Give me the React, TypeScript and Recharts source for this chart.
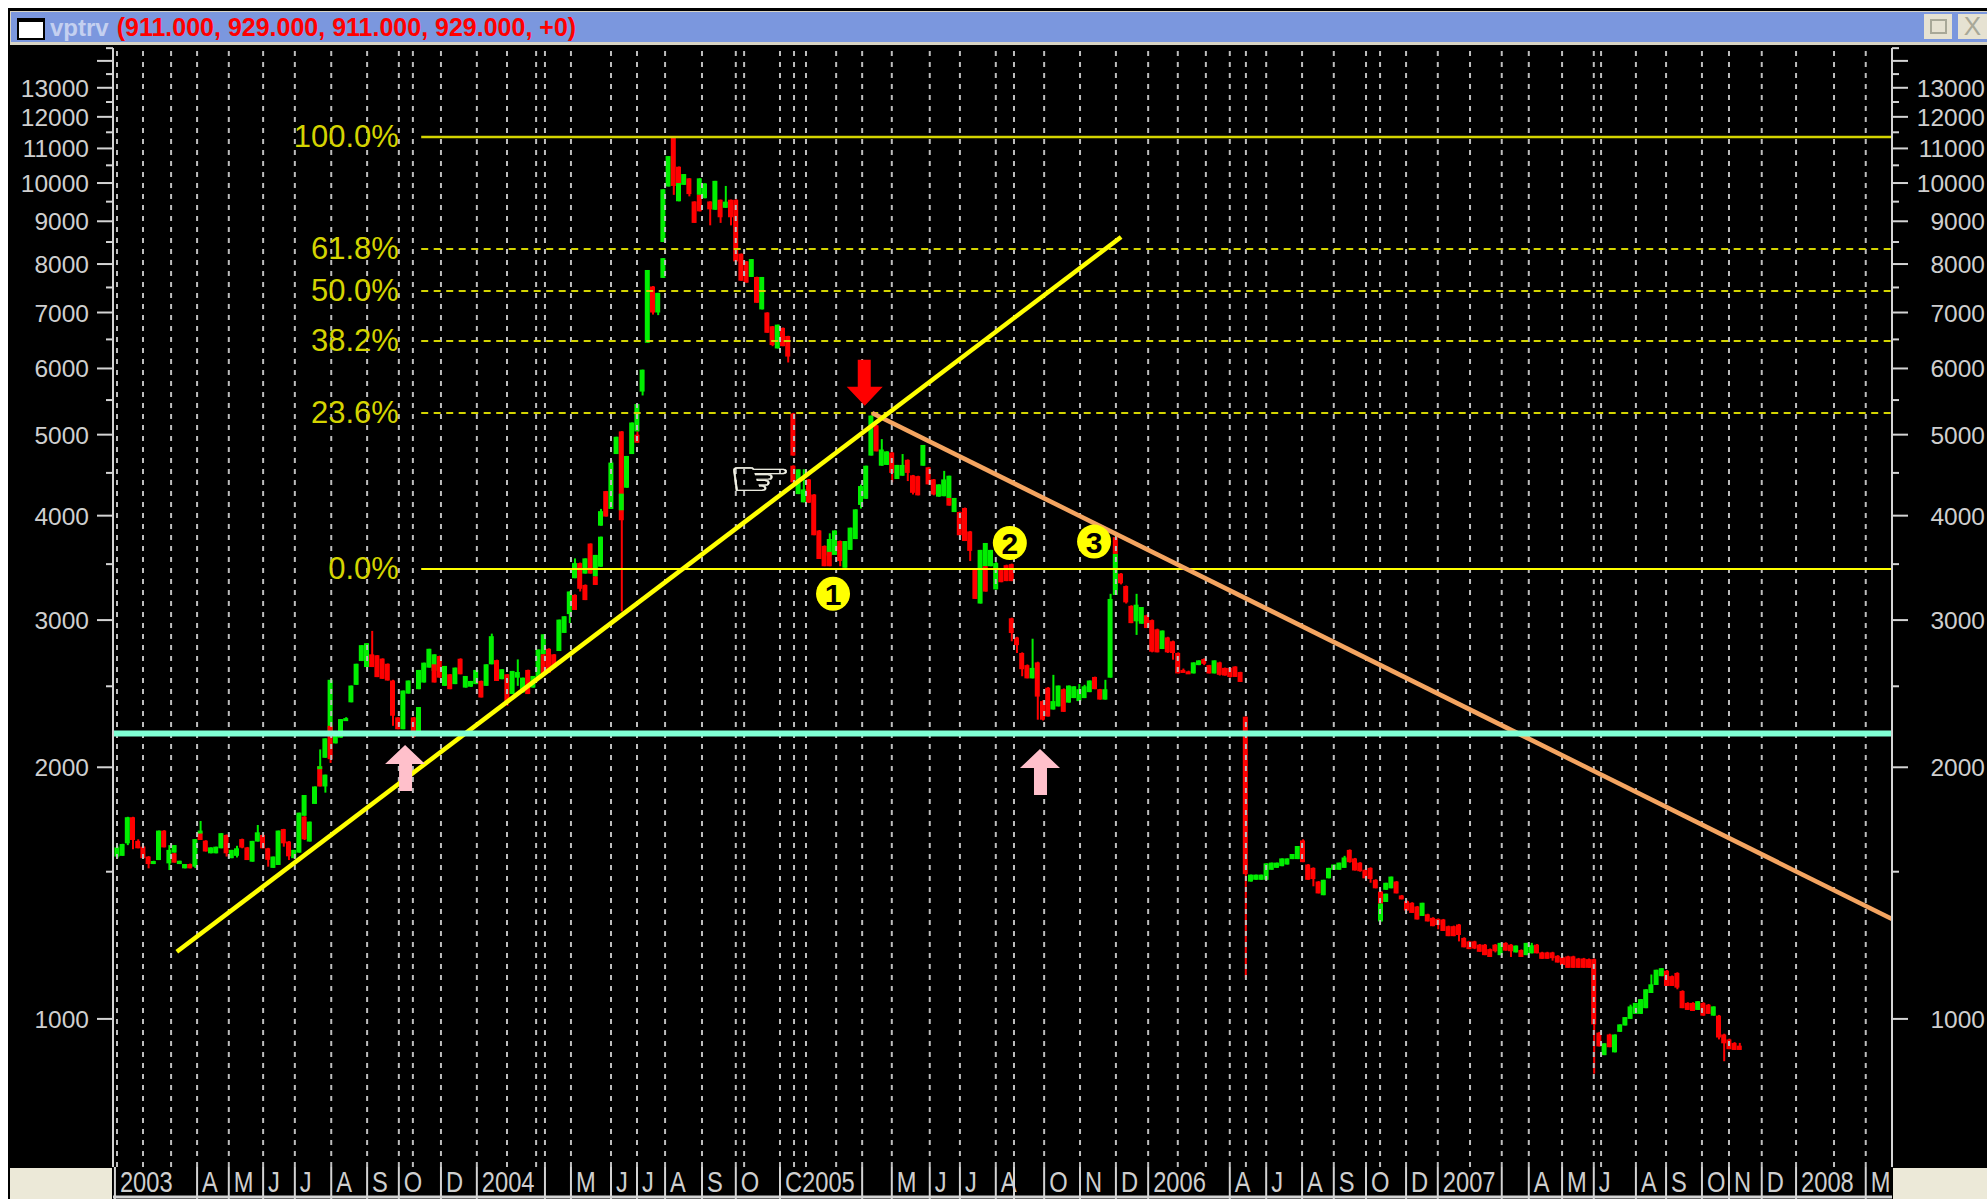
import React from "react";
import { ComposedChart, Bar, XAxis, YAxis, ReferenceLine, ReferenceDot } from "recharts";

type Ohlc = number[];

const bars2003a: Ohlc[] = [[1564,1610,1557,1604],[1567,1620,1567,1619],[1622,1745,1614,1743],[1743,1745,1596,1637],[1633,1640,1600,1600],[1607,1610,1557,1557],[1564,1566,1514,1532],[1532,1546,1532,1545],[1549,1680,1549,1680],[1680,1682,1604,1604],[1535,1614,1507,1593],[1581,1614,1581,1614],[1532,1546,1532,1546],[1514,1532,1514,1532],[1532,1534,1514,1514],[1521,1641,1515,1641],[1671,1672,1637,1637],[1634,1636,1586,1586],[1578,1604,1578,1604],[1578,1607,1578,1607]];
const bars2003b: Ohlc[] = [[1600,1668,1600,1668],[1660,1662,1564,1578],[1557,1593,1557,1593],[1567,1611,1560,1600],[1641,1643,1600,1603],[1604,1606,1549,1549],[1542,1633,1542,1633],[1630,1706,1630,1672],[1660,1662,1600,1600],[1600,1602,1521,1550],[1516,1564,1516,1564],[1528,1680,1528,1680],[1687,1688,1607,1622],[1630,1632,1549,1565],[1557,1593,1557,1593],[1581,1765,1581,1765],[1750,1853,1750,1853],[1630,1722,1630,1722],[1808,1897,1808,1897],[2006,2008,1897,1897]];
const bars2003c: Ohlc[] = [[2053,2166,2053,2166],[2180,2545,2140,2545],[2136,2180,2136,2180],[2170,2284,2170,2284],[2280,2296,2280,2290],[2392,2505,2392,2505],[2510,2660,2510,2660],[2680,2800,2680,2800],[2636,2815,2636,2815],[2730,2912,2636,2636],[2723,2725,2564,2564],[2698,2700,2552,2552],[2660,2662,2540,2540],[2540,2545,2242,2305],[2295,2297,2221,2221],[2221,2471,2221,2471],[2450,2540,2450,2540],[2295,2297,2170,2175],[2199,2361,2199,2361],[2526,2668,2526,2668]];
const bars2004a: Ohlc[] = [[2632,2772,2632,2772],[2608,2730,2608,2730],[2717,2720,2560,2560],[2503,2644,2503,2644],[2584,2586,2480,2480],[2515,2632,2515,2632],[2697,2700,2584,2584],[2491,2572,2491,2572],[2497,2537,2497,2537],[2515,2615,2515,2615],[2537,2540,2424,2424],[2503,2656,2503,2656],[2656,2890,2656,2870],[2687,2690,2537,2537],[2549,2620,2549,2620],[2584,2586,2370,2400],[2447,2608,2447,2608],[2560,2692,2503,2600],[2458,2560,2458,2560],[2615,2617,2447,2447]];
const bars2004b: Ohlc[] = [[2491,2572,2491,2572],[2560,2767,2560,2767],[2730,2885,2730,2885],[2772,2775,2596,2596],[2730,2732,2632,2632],[2755,3004,2755,3004],[2896,3032,2896,3032],[3050,3246,2975,3246],[3216,3220,3085,3085],[3510,3515,3246,3270],[3305,3310,3170,3170],[3704,3706,3410,3410],[3383,3590,3383,3590],[3475,3775,3475,3775],[4280,4282,3990,3990],[4075,4660,4075,4630],[4740,4971,4740,4971],[5045,5050,3073,3950],[4320,4715,4320,4715],[4740,5170,4740,5170]];
const bars2004c: Ohlc[] = [[5045,5440,5045,5440],[5630,5980,5570,5980],[6440,7870,6440,7870],[7520,7530,6960,7000],[7000,7390,6950,7390],[8500,9830,8500,9830],[9905,10770,9905,10770],[11320,11340,9680,9920],[9510,10060,9510,10060],[9950,10250,9950,10250],[10130,10135,9640,9700],[9505,9510,8960,8960],[9680,10130,9680,10130],[9590,9990,9590,9990],[9505,9510,8900,9300],[9290,10060,9290,10060],[9550,9555,8960,9100],[9340,9920,9340,9500],[9550,9555,8900,9100],[9550,9560,8060,8060]];
const bars2005a: Ohlc[] = [[8230,8235,7640,7640],[8060,8065,7600,7600],[7720,8110,7720,8110],[7720,7725,7190,7190],[7060,7720,7060,7720],[7000,7005,6620,6620],[6740,6745,6380,6400],[6340,6770,6340,6770],[6710,6715,6380,6380],[6561,6565,6100,6200],[5300,5310,4717,4720],[4245,4545,4245,4545],[4150,4545,4150,4300],[4420,4425,4145,4145],[4240,4245,3790,3790],[3840,3845,3550,3550],[3680,3685,3480,3480],[3583,3810,3583,3751],[3590,3840,3590,3840],[3730,3735,3480,3530]];
const bars2005b: Ohlc[] = [[3465,3730,3465,3730],[3640,3870,3640,3870],[3750,4070,3750,4070],[4120,4360,4080,4340],[4190,4590,4190,4590],[4720,5270,4720,5270],[5130,5135,4775,4775],[4590,4939,4590,4800],[4600,4775,4600,4775],[4760,4765,4385,4500],[4425,4600,4425,4600],[4465,4740,4465,4600],[4665,4670,4400,4500],[4470,4475,4240,4260],[4460,4465,4230,4230],[4590,4860,4590,4860],[4570,4575,4360,4360],[4420,4425,4230,4240],[4215,4360,4215,4360],[4220,4525,4220,4420]];
const bars2005c: Ohlc[] = [[4200,4465,4200,4465],[4040,4200,4040,4200],[4040,4045,3790,3790],[4085,4090,3730,3730],[3830,3835,3530,3630],[3455,3460,3180,3180],[3140,3640,3140,3640],[3480,3710,3480,3710],[3480,3640,3480,3640],[3265,3520,3265,3510],[3455,3460,3330,3330],[3490,3495,3340,3340],[3500,3505,3340,3340],[2860,2865,2740,2800],[2740,2745,2570,2620],[2650,2655,2555,2555],[2555,2850,2555,2630],[2670,2675,2280,2430],[2400,2405,2275,2280],[2490,2495,2300,2300]];
const bars2006a: Ohlc[] = [[2345,2580,2345,2400],[2365,2505,2365,2505],[2480,2485,2330,2330],[2390,2505,2390,2505],[2420,2500,2420,2500],[2400,2515,2400,2480],[2420,2510,2420,2500],[2460,2540,2460,2540],[2565,2567,2480,2480],[2480,2482,2410,2410],[2410,2545,2410,2480],[2560,3225,2560,3180],[3215,3600,3215,3600],[3410,3415,3310,3320],[3295,3300,3140,3150],[3120,3125,2975,2975],[2990,3225,2880,3130],[2970,3110,2970,3110],[3040,3045,2935,2935],[3000,3005,2745,2750]];
const bars2006b: Ohlc[] = [[2925,2930,2745,2745],[2770,2915,2770,2915],[2860,2865,2740,2745],[2830,2835,2690,2740],[2740,2745,2590,2590],[2615,2625,2600,2605],[2605,2610,2595,2600],[2590,2670,2590,2670],[2650,2685,2650,2685],[2695,2700,2650,2660],[2650,2652,2590,2590],[2590,2685,2590,2685],[2670,2675,2575,2580],[2630,2632,2575,2575],[2630,2632,2560,2565],[2640,2642,2565,2565],[2600,2602,2530,2530],[2299,2300,1120,1490],[1460,1488,1460,1488],[1467,1488,1467,1488]];
const bars2006c: Ohlc[] = [[1467,1488,1467,1488],[1467,1535,1467,1535],[1508,1538,1508,1538],[1516,1538,1516,1538],[1523,1556,1523,1556],[1530,1556,1530,1556],[1553,1575,1553,1575],[1553,1610,1553,1610],[1635,1640,1540,1540],[1530,1532,1467,1467],[1516,1518,1441,1470],[1460,1462,1413,1413],[1406,1467,1406,1467],[1473,1516,1473,1516],[1508,1530,1508,1530],[1508,1538,1508,1538],[1516,1567,1516,1560],[1593,1595,1538,1540],[1556,1558,1505,1505],[1538,1540,1500,1502]];
const bars2007a: Ohlc[] = [[1508,1510,1473,1473],[1516,1518,1455,1470],[1467,1469,1433,1433],[1308,1375,1308,1375],[1380,1412,1380,1412],[1433,1480,1433,1480],[1460,1462,1413,1413],[1405,1407,1390,1390],[1383,1385,1348,1348],[1377,1379,1339,1339],[1363,1365,1315,1315],[1328,1377,1328,1377],[1334,1336,1308,1308],[1321,1323,1291,1291],[1317,1319,1280,1295],[1315,1317,1274,1274],[1291,1293,1256,1256],[1291,1293,1256,1256],[1297,1299,1238,1260],[1250,1252,1218,1218]];
const bars2007b: Ohlc[] = [[1238,1240,1212,1212],[1238,1240,1212,1214],[1227,1229,1203,1203],[1227,1229,1192,1192],[1212,1214,1186,1186],[1227,1229,1201,1205],[1192,1233,1192,1233],[1233,1235,1207,1207],[1227,1229,1186,1205],[1201,1224,1201,1224],[1209,1211,1186,1186],[1192,1233,1192,1233],[1198,1233,1198,1225],[1227,1229,1198,1198],[1201,1203,1180,1180],[1201,1203,1180,1180],[1201,1203,1174,1182],[1190,1192,1168,1168],[1185,1187,1160,1160],[1188,1190,1151,1151]];
const bars2007c: Ohlc[] = [[1188,1190,1151,1151],[1181,1183,1151,1151],[1181,1183,1151,1151],[1179,1181,1151,1151],[1179,1181,860,985],[963,965,927,927],[905,935,905,935],[958,960,925,925],[912,958,912,958],[965,985,965,985],[982,1005,982,1005],[1000,1040,1000,1035],[1014,1045,1014,1045],[1014,1056,1014,1056],[1030,1085,1030,1085],[1074,1130,1074,1100],[1098,1145,1098,1145],[1125,1150,1125,1150],[1142,1144,1095,1095],[1125,1127,1095,1095]];
const bars2007d: Ohlc[] = [[1135,1137,1085,1090],[1080,1082,1030,1030],[1045,1047,1025,1025],[1045,1047,1022,1022],[1025,1050,1025,1050],[1045,1047,1009,1009],[1040,1042,1014,1014],[1009,1035,1009,1035],[1009,1011,945,950],[958,960,890,935],[945,947,920,920],[936,938,918,918],[929,936,918,918]];

// second bar drawn in an occupied slot: slot, open, high, low, close
const overlapBars: number[][] = [[11,1578,1580,1538,1538],[16,1672,1725,1672,1680],[36,1746,1748,1637,1640],[39,2006,2101,1990,2006],[40,1897,1960,1865,1960],[41,2242,2245,2024,2045],[58,2480,2615,2480,2615],[61,2656,2660,2526,2526],[82,2730,2732,2584,2584],[88,3367,3556,3367,3510],[90,3410,3556,3410,3556],[92,3383,3385,3305,3305],[93,3891,4075,3891,4050],[97,4060,4250,4060,4250],[100,5000,5045,4890,4890],[105,7700,8130,7700,8130],[108,10460,10465,9950,10000],[112,9680,9685,9250,9250],[130,4590,4595,4385,4385],[137,3620,3625,3480,3480],[160,4200,4205,4112,4112],[167,3480,3485,3245,3245],[172,3015,3020,2830,2895],[192,3770,3775,3600,3600],[243,1420,1422,1375,1375],[244,1427,1455,1427,1455]];

const gridSlots = [0,5,10.4,15.4,21.5,28.1,34.2,41.2,48.1,54.2,56.9,62.3,69.2,75,80.6,82.3,87.3,95,100,105.4,112.5,119,120.6,127.5,130.2,132.5,138.3,143.3,149,156.3,162.1,169,172.5,178.3,185.2,192.1,198.3,204,209.4,214,217.1,221,227.9,234,240.2,242.9,247.9,254,260.2,266.3,271.5,277.9,284,285.4,292.1,297.9,304.8,310,316.3,322.9,330.2,336.3];

const timeSlots = [-0.4,15.4,21.5,28.1,34.2,41.2,48.1,54.2,62.3,69.2,82.3,87.3,95,100,105.4,112.5,119,127.5,143.3,149,156.3,162.1,169,172.5,178.3,185.2,192.1,198.3,214,221,227.9,234,240.2,247.9,254,266.3,271.5,277.9,284,292.1,297.9,304.8,310,316.3,322.9,336.3];
const timeLabels = ["2003","A","M","J","J","A","S","O","D","2004","","M","J","J","A","S","O","C2005","","M","J","J","A","","O","N","D","2006","A","J","A","S","O","D","2007","","A","M","J","A","S","O","N","D","2008","M"];

const labeledPrices = [13000,12000,11000,10000,9000,8000,7000,6000,5000,4000,3000,2000,1000];
const unlabeledPrices = [14000];
const minorPrices = [14500,13500,12500,11500,10500,9500,8500,7500,6500,5500,4500,3500,2500,1500];

const fibPrices = [11350,8340,7428,6471,5308,3453];
const fibLabels = ["100.0%","61.8%","50.0%","38.2%","23.6%","0.0%"];
const fibSolid = [true,false,false,false,false,true];

const supportPrice = 2195;
const riseLine = [{ x: 11.5, y: 1203 }, { x: 193.1, y: 8619 }];
const fallLine = [{ x: 145.2, y: 5308 }, { x: 341.35, y: 1317 }];

const numberMarks = [{ x: 137.7, y: 3226, n: "1" }, { x: 171.7, y: 3710, n: "2" }, { x: 187.9, y: 3724, n: "3" }];
const pinkArrows = [{ x: 55.4, y: 2127 }, { x: 177.5, y: 2103 }];
const redArrow = { x: 143.8, y: 5414 };
const handMark = { x: 123.7, y: 4413 };

const GREEN = "#00ee00";
const RED = "#ff0000";
const GRID = "#bdbdbd";
const AXIS = "#d4d4d4";
const TXT = "#cfcfcf";
const FIB = "#d4d400";
const FONT = "'Liberation Sans', Arial, sans-serif";
const X_DOMAIN = [-0.77, 341.35];
const Y_DOMAIN = [665, 14506];

const toRow = (slot: number, b: number[]) => ({
  slot,
  wick: [b[2], b[1]],
  body: [Math.min(b[0], b[3]), Math.max(b[0], b[3])],
  color: b[3] >= b[0] ? GREEN : RED,
});

const mainBars = [...bars2003a, ...bars2003b, ...bars2003c, ...bars2004a, ...bars2004b, ...bars2004c, ...bars2005a, ...bars2005b, ...bars2005c, ...bars2006a, ...bars2006b, ...bars2006c, ...bars2007a, ...bars2007b, ...bars2007c, ...bars2007d];
const rows = [...mainBars.map((b, i) => toRow(i, b)), ...overlapBars.map((b) => toRow(b[0], b.slice(1)))];

const RangeShape = (minH: number) => (p: any) => (
  <rect x={p.x} y={p.y} width={p.width} height={Math.max(p.height, minH)} fill={p.payload.color} />
);

const PriceTick = (side: "left" | "right") => (p: any) => {
  const v = p.payload.value;
  const long = labeledPrices.includes(v) || unlabeledPrices.includes(v);
  const len = long ? 16 : 7;
  const y = p.y;
  const ax = side === "left" ? 113 : 1892;
  const dir = side === "left" ? -1 : 1;
  return (
    <g>
      <line x1={ax} x2={ax + dir * len} y1={y} y2={y} stroke={AXIS} strokeWidth={2} />
      {labeledPrices.includes(v) && (
        <text x={side === "left" ? 89 : 1985} y={y + 9} textAnchor="end" fill={TXT} fontSize={24.5} fontFamily={FONT}>{v}</text>
      )}
    </g>
  );
};

const TimeTick = (p: any) => {
  const idx = timeSlots.indexOf(p.payload.value);
  const label = timeLabels[idx];
  const x = p.x;
  return (
    <g>
      <line x1={x} x2={x} y1={1167} y2={1199} stroke={AXIS} strokeWidth={2} />
      <text transform={`translate(${x + 5},1192) scale(0.79,1)`} fill={TXT} fontSize={30} fontFamily={FONT}>{label}</text>
    </g>
  );
};

const FibLabel = (label: string) => (p: any) => (
  <text x={p.cx} y={p.cy + 10} textAnchor="end" fill={FIB} fontSize={31} fontFamily={FONT}>{label}</text>
);

const NumberMark = (n: string) => (p: any) => (
  <g>
    <circle cx={p.cx} cy={p.cy} r={17} fill="#ffff00" />
    <text x={p.cx} y={p.cy + 11} textAnchor="middle" fill="#000" fontSize={30} fontWeight={700} fontFamily={FONT}>{n}</text>
  </g>
);

const PinkArrow = (p: any) => {
  const { cx: x, cy: y } = p;
  return <polygon fill="#ffc0cb" points={`${x},${y} ${x + 20},${y + 19} ${x + 7},${y + 19} ${x + 7},${y + 46} ${x - 6},${y + 46} ${x - 6},${y + 19} ${x - 20},${y + 19}`} />;
};
const RedArrow = (p: any) => {
  const { cx: x, cy: y } = p;
  return <polygon fill="#ff0000" points={`${x},${y} ${x + 18},${y - 19} ${x + 6},${y - 19} ${x + 6},${y - 46} ${x - 7},${y - 46} ${x - 7},${y - 19} ${x - 18},${y - 19}`} />;
};
const HandMark = (p: any) => (
  <text transform={`translate(${p.cx},${p.cy + 16}) scale(1.6,1.1)`} textAnchor="middle" fill="#f4f4e8" stroke="#f4f4e8" strokeWidth={0.4} fontSize={46} fontFamily="'DejaVu Sans'">☞</text>
);

const ids = { xAxisId: "main", yAxisId: "left" } as const;

export default function App() {
  return (
    <div style={{ position: "absolute", left: 0, top: 0, width: 1987, height: 1199, background: "#fff", overflow: "hidden" }}>
      <div style={{ position: "absolute", left: 8, top: 8, right: 0, bottom: 0, background: "#000" }} />
      <div style={{ position: "absolute", left: 10, top: 11, right: 0, height: 34, background: "#d8d4c4" }} />
      <div style={{ position: "absolute", left: 11, top: 12, right: 0, height: 30, background: "#7b97de" }} />
      <div style={{ position: "absolute", left: 17, top: 18, width: 24, height: 16, background: "#fff", border: "2px solid #000", borderTopWidth: 4 }} />
      <div style={{ position: "absolute", left: 50, top: 12, height: 30, lineHeight: "30px", fontFamily: FONT, fontSize: 25, fontWeight: 700, whiteSpace: "nowrap" }}>
        <span style={{ color: "#c4d0f0", fontSize: 24 }}>vptrv</span>
        <span style={{ color: "#ff0000", marginLeft: 8 }}>(911.000, 929.000, 911.000, 929.000, +0)</span>
      </div>
      <div style={{ position: "absolute", left: 1924, top: 14, width: 28, height: 25, background: "#e6e2d2" }}>
        <div style={{ position: "absolute", left: 6, top: 5, width: 13, height: 11, border: "2px solid #a8a898" }} />
      </div>
      <div style={{ position: "absolute", left: 1958, top: 14, width: 29, height: 25, background: "#e6e2d2", color: "#a8a898", fontFamily: FONT, fontSize: 26, lineHeight: "25px", textAlign: "center" }}>X</div>
      <div style={{ position: "absolute", left: 10, top: 1168, width: 102, height: 31, background: "#ece9d8" }} />
      <div style={{ position: "absolute", left: 1893, top: 1168, width: 94, height: 31, background: "#ece9d8" }} />
      <div style={{ position: "absolute", left: 0, top: 0 }}>
        <ComposedChart width={1987} height={1199} data={rows} margin={{ top: 48, right: 0, bottom: 0, left: 0 }}>
          <XAxis xAxisId="main" dataKey="slot" type="number" domain={X_DOMAIN} allowDataOverflow height={32} ticks={timeSlots} interval={0} tick={TimeTick} tickLine={false} axisLine={{ stroke: AXIS, strokeWidth: 3 }} />
          <XAxis xAxisId="body" dataKey="slot" type="number" domain={X_DOMAIN} allowDataOverflow hide />
          <YAxis yAxisId="left" orientation="left" width={113} scale="log" domain={Y_DOMAIN} allowDataOverflow ticks={[...labeledPrices, ...unlabeledPrices, ...minorPrices]} interval={0} tick={PriceTick("left")} tickLine={false} axisLine={{ stroke: AXIS, strokeWidth: 2 }} />
          <YAxis yAxisId="right" orientation="right" width={95} scale="log" domain={Y_DOMAIN} allowDataOverflow ticks={[...labeledPrices, ...unlabeledPrices, ...minorPrices]} interval={0} tick={PriceTick("right")} tickLine={false} axisLine={{ stroke: AXIS, strokeWidth: 2 }} />

          {gridSlots.map((s) => (
            <ReferenceLine key={`g${s}`} {...ids} x={s} stroke={GRID} strokeWidth={2} strokeDasharray="5 6" />
          ))}

          <Bar xAxisId="main" yAxisId="left" dataKey="wick" barSize={2} isAnimationActive={false} shape={RangeShape(1)} />
          <Bar xAxisId="body" yAxisId="left" dataKey="body" barSize={5} isAnimationActive={false} shape={RangeShape(3)} />

          {fibPrices.map((p, i) => (
            <ReferenceLine key={`f${p}`} {...ids} segment={[{ x: 58.5, y: p }, { x: 341.35, y: p }]} stroke={i === 5 ? "#ffff00" : FIB} strokeWidth={i === 5 ? 2 : fibSolid[i] ? 2.5 : 2} strokeDasharray={fibSolid[i] ? undefined : "7 5.5"} />
          ))}
          <ReferenceLine {...ids} segment={fallLine} stroke="#f4a460" strokeWidth={4.5} />
          <ReferenceLine {...ids} segment={riseLine} stroke="#ffff00" strokeWidth={4.5} />
          <ReferenceLine {...ids} y={supportPrice} stroke="#7fffd4" strokeWidth={6} />

          {fibPrices.map((p, i) => (
            <ReferenceDot key={`l${p}`} {...ids} x={54.2} y={p} r={0} shape={FibLabel(fibLabels[i])} />
          ))}
          {numberMarks.map((m) => (
            <ReferenceDot key={m.n} {...ids} x={m.x} y={m.y} r={17} shape={NumberMark(m.n)} />
          ))}
          {pinkArrows.map((m) => (
            <ReferenceDot key={`p${m.x}`} {...ids} x={m.x} y={m.y} r={1} shape={PinkArrow} />
          ))}
          <ReferenceDot {...ids} x={redArrow.x} y={redArrow.y} r={1} shape={RedArrow} />
          <ReferenceDot {...ids} x={handMark.x} y={handMark.y} r={1} shape={HandMark} />
        </ComposedChart>
      </div>
    </div>
  );
}
